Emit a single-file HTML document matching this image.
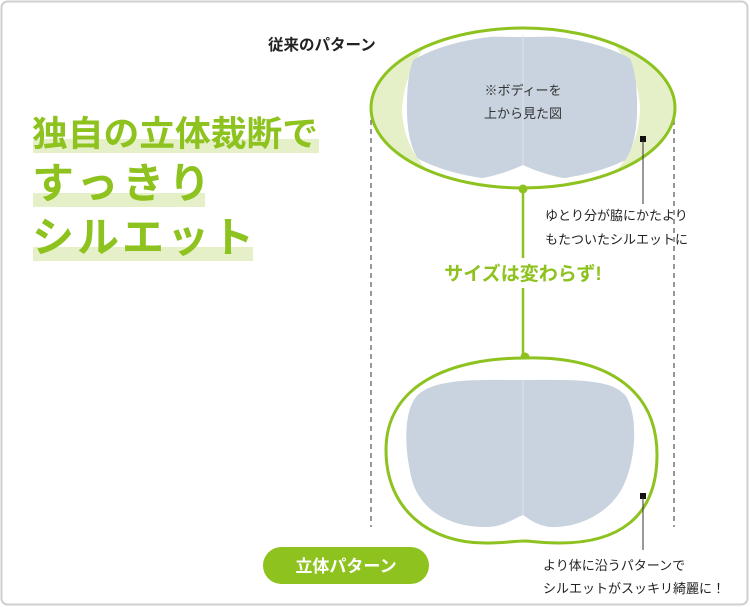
<!DOCTYPE html>
<html><head><meta charset="utf-8"><style>
body{margin:0;width:750px;height:607px;overflow:hidden;background:#fff;font-family:"Liberation Sans","Noto Sans CJK JP",sans-serif}
</style></head><body>
<svg width="750" height="607" viewBox="0 0 750 607" xmlns="http://www.w3.org/2000/svg" style="position:absolute;left:0;top:0">
<rect x="1.5" y="1.5" width="746" height="603" rx="6" fill="#fff" stroke="#cfcfcf" stroke-width="2"/>
<rect x="33" y="139" width="286" height="14" fill="#e6f0c8"/>
<rect x="33" y="193" width="172" height="14" fill="#e6f0c8"/>
<rect x="33" y="247" width="220" height="14" fill="#e6f0c8"/>
<g font-family="'Liberation Sans','Noto Sans CJK JP',sans-serif" font-weight="bold" fill="#8dc21f">
<text x="32" y="146" font-size="35" textLength="286" lengthAdjust="spacingAndGlyphs">独自の立体裁断で</text>
<text x="32" y="198" font-size="42" letter-spacing="4">すっきり</text>
<text x="32" y="252" font-size="42" letter-spacing="3">シルエット</text>
</g>
<text x="268" y="50" font-size="15.5" font-weight="bold" fill="#222" font-family="'Liberation Sans','Noto Sans CJK JP',sans-serif">従来のパターン</text>
<line x1="371" y1="120" x2="371" y2="527" stroke="#777" stroke-width="1.5" stroke-dasharray="5,4"/>
<line x1="674" y1="120" x2="674" y2="527" stroke="#777" stroke-width="1.5" stroke-dasharray="5,4"/>
<defs>
<clipPath id="ce"><ellipse cx="523" cy="108" rx="152" ry="80"/></clipPath>
<clipPath id="ci"><ellipse cx="523" cy="108" rx="146" ry="73"/></clipPath>
</defs>
<ellipse cx="523" cy="108" rx="152" ry="80" fill="#fff"/>
<g clip-path="url(#ce)">
<path d="M371 30 L442 30 Q405 60 402 110 Q404 160 450 188 L371 188Z" fill="#e6f0c8"/>
<path d="M675 30 L602 30 Q640 70 640 110 Q638 160 596 188 L675 188Z" fill="#e6f0c8"/>
</g>
<g clip-path="url(#ci)">
<path d="M523 37 C560 37 590 34 610 40 C632 48 636 70 637 100 C638 135 632 160 612 174 C595 184 560 182 523 165 C486 182 450 184 432 174 C412 160 406 135 407 100 C408 70 412 48 434 40 C455 34 486 37 523 37Z" fill="#c9d3df"/>
<line x1="523" y1="30" x2="523" y2="165" stroke="#dde4ec" stroke-width="1"/>
</g>
<ellipse cx="523" cy="108" rx="152" ry="80" fill="none" stroke="#8dc21f" stroke-width="3"/>
<text x="523" y="95" font-size="13" text-anchor="middle" fill="#333" font-family="'Liberation Sans','Noto Sans CJK JP',sans-serif">※ボディーを</text>
<text x="523" y="118" font-size="13" text-anchor="middle" fill="#333" font-family="'Liberation Sans','Noto Sans CJK JP',sans-serif">上から見た図</text>
<line x1="523" y1="188" x2="523" y2="357" stroke="#8dc21f" stroke-width="2.5"/>
<circle cx="523" cy="189" r="4.5" fill="#8dc21f"/>
<circle cx="525" cy="357" r="4.5" fill="#8dc21f"/>
<rect x="420" y="258" width="206" height="30" fill="#fff"/>
<text x="523" y="280" font-size="19" font-weight="bold" text-anchor="middle" fill="#8dc21f" font-family="'Liberation Sans','Noto Sans CJK JP',sans-serif">サイズは変わらず!</text>
<path d="M525 358 C600 356 657 385 657 455 C657 520 615 543 560 543 C540 543 530 541 525 541 C515 541 505 543 485 543 C430 543 386 510 386 450 C386 385 450 358 525 358Z" fill="#fff" stroke="#8dc21f" stroke-width="3"/>
<path d="M523 380 C570 380 610 378 625 395 C640 415 636 470 618 495 C600 520 570 528 550 527 C535 525 528 518 523 515 C515 518 505 526 488 527 C450 528 420 510 412 480 C403 445 404 405 420 393 C440 378 480 380 523 380Z" fill="#c9d3df"/>
<line x1="523" y1="380" x2="523" y2="515" stroke="#dde4ec" stroke-width="1"/>
<rect x="640" y="136" width="6" height="6" fill="#111"/>
<line x1="643" y1="140" x2="643" y2="204" stroke="#333" stroke-width="1"/>
<rect x="640" y="493" width="6" height="6" fill="#111"/>
<line x1="643" y1="497" x2="643" y2="550" stroke="#333" stroke-width="1"/>
<g font-size="13" fill="#222" font-family="'Liberation Sans','Noto Sans CJK JP',sans-serif">
<text x="545" y="220">ゆとり分が脇にかたより</text>
<text x="545" y="244">もたついたシルエットに</text>
<text x="543" y="570">より体に沿うパターンで</text>
<text x="543" y="593">シルエットがスッキリ綺麗に！</text>
</g>
<rect x="263" y="547" width="166" height="37" rx="18.5" fill="#8dc21f"/>
<text x="346" y="572" font-size="17" font-weight="bold" fill="#fff" text-anchor="middle" font-family="'Liberation Sans','Noto Sans CJK JP',sans-serif">立体パターン</text>
</svg>
</body></html>
